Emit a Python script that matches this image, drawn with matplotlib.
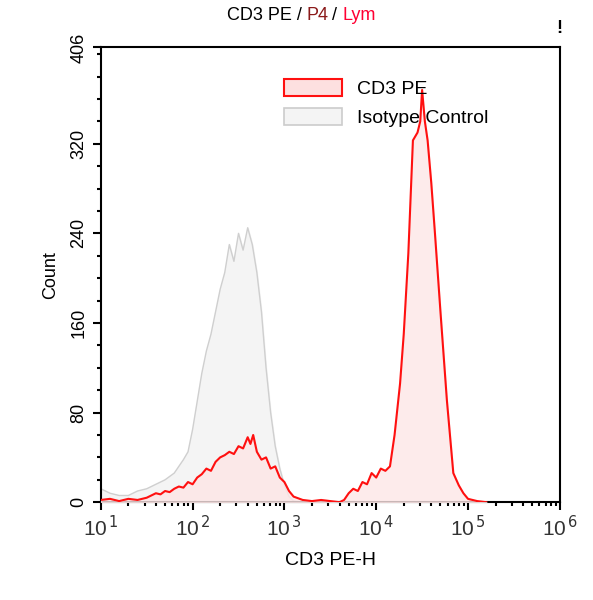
import matplotlib
matplotlib.use("agg")
import matplotlib.pyplot as plt
from matplotlib.patches import Patch
import numpy as np

plt.rcParams['font.family'] = ['Liberation Sans', 'DejaVu Sans']

# log10 positions and counts
cd3_logx = [1.0, 1.1, 1.2, 1.3, 1.4, 1.5, 1.6, 1.65, 1.7, 1.75, 1.8, 1.85, 1.9, 1.95, 2.0, 2.05, 2.1,
            2.15, 2.2, 2.25, 2.3, 2.35, 2.4, 2.45, 2.5, 2.55, 2.6, 2.63, 2.66, 2.7, 2.75, 2.8, 2.85,
            2.9, 2.95, 3.0, 3.05, 3.1, 3.2, 3.3, 3.4, 3.5, 3.6, 3.65, 3.7, 3.75, 3.8, 3.85, 3.9,
            3.95, 4.0, 4.05, 4.1, 4.15, 4.2, 4.26, 4.3, 4.35, 4.4, 4.45, 4.48, 4.5, 4.53, 4.56,
            4.6, 4.64, 4.7, 4.77, 4.84, 4.9, 4.95, 5.0, 5.1, 5.2]
cd3_count = [2, 3, 1, 3, 2, 4, 8, 7, 10, 9, 12, 14, 13, 18, 16, 22, 25, 30, 28, 36, 40, 42, 45,
             43, 50, 48, 58, 52, 60, 45, 38, 40, 30, 32, 22, 18, 10, 5, 2, 1, 2, 1, 0, 2, 8, 12,
             10, 18, 16, 26, 22, 30, 28, 32, 60, 106, 150, 222, 323, 330, 340, 368, 340, 323,
             285, 240, 170, 91, 26, 15, 8, 3, 1, 0]
iso_logx = [1.0, 1.1, 1.2, 1.3, 1.4, 1.5, 1.6, 1.7, 1.8, 1.85, 1.9, 1.95, 2.0, 2.05, 2.1, 2.15,
            2.2, 2.25, 2.3, 2.35, 2.4, 2.45, 2.5, 2.55, 2.6, 2.65, 2.7, 2.75, 2.8, 2.85, 2.9,
            2.95, 3.0, 3.05, 3.1, 3.2, 3.3]
iso_count = [12, 8, 6, 6, 10, 12, 16, 20, 26, 32, 38, 45, 65, 90, 115, 135, 150, 170, 190, 205,
             230, 215, 240, 225, 245, 230, 205, 170, 120, 80, 50, 30, 15, 5, 1, 0, 0]

fig = plt.figure(figsize=(5.93, 6.0), dpi=100)
ax = fig.add_axes([0.170, 0.163, 0.774, 0.758])

ix = 10 ** np.array(iso_logx)
cx = 10 ** np.array(cd3_logx)
ax.fill_between(ix, iso_count, color="#f4f4f4", zorder=1)
ax.plot(ix, iso_count, color="#cfcfcf", lw=1, zorder=2)
ax.fill_between(cx, cd3_count, color="#fde6e6", alpha=0.8, zorder=3)
ax.plot(cx, cd3_count, color="#ff1010", lw=1.5, zorder=4)

ax.set_xscale("log")
ax.set_xlim(10, 1e6)
ax.set_ylim(0, 406)
ax.set_xticks([10 ** k for k in range(1, 7)])
ax.set_xticklabels([f"10$^{{\\,{k}}}$" for k in range(1, 7)], fontsize=15, color="#333")
ax.set_yticks([0, 80, 160, 240, 320, 406])
ax.set_yticklabels(["0", "80", "160", "240", "320", "406"], rotation=90, va="center", fontsize=13)
ax.set_yticks(np.arange(0, 406, 20), minor=True)
ax.tick_params(which="both", direction="out", width=1.5)
ax.tick_params(which="major", length=6)
ax.tick_params(which="minor", length=3)
for s in ax.spines.values():
    s.set_linewidth(1.5)

ax.set_xlabel("CD3 PE-H", fontsize=14, labelpad=8)
ax.set_ylabel("Count", fontsize=13, labelpad=8)

fig.text(0.383, 0.967, "CD3 PE /", fontsize=13, ha="left", color="black")
fig.text(0.517, 0.967, "P4", fontsize=13, ha="left", color="#8b1a1a")
fig.text(0.560, 0.967, "/", fontsize=13, ha="left", color="black")
fig.text(0.578, 0.967, "Lym", fontsize=13, ha="left", color="#ff0033")
fig.text(0.943, 0.945, "!", fontsize=13, fontweight="bold", ha="center")

handles = [Patch(facecolor="#fde0e0", edgecolor="#ff1010", lw=1.5, label="CD3 PE"),
           Patch(facecolor="#f4f4f4", edgecolor="#cccccc", lw=1.2, label="Isotype Control")]
ax.legend(handles=handles, loc="upper left", bbox_to_anchor=(0.36, 0.97), frameon=False,
          fontsize=14, handlelength=3.0, handleheight=1.0, labelspacing=0.5)

plt.savefig("out.png", dpi=100)
